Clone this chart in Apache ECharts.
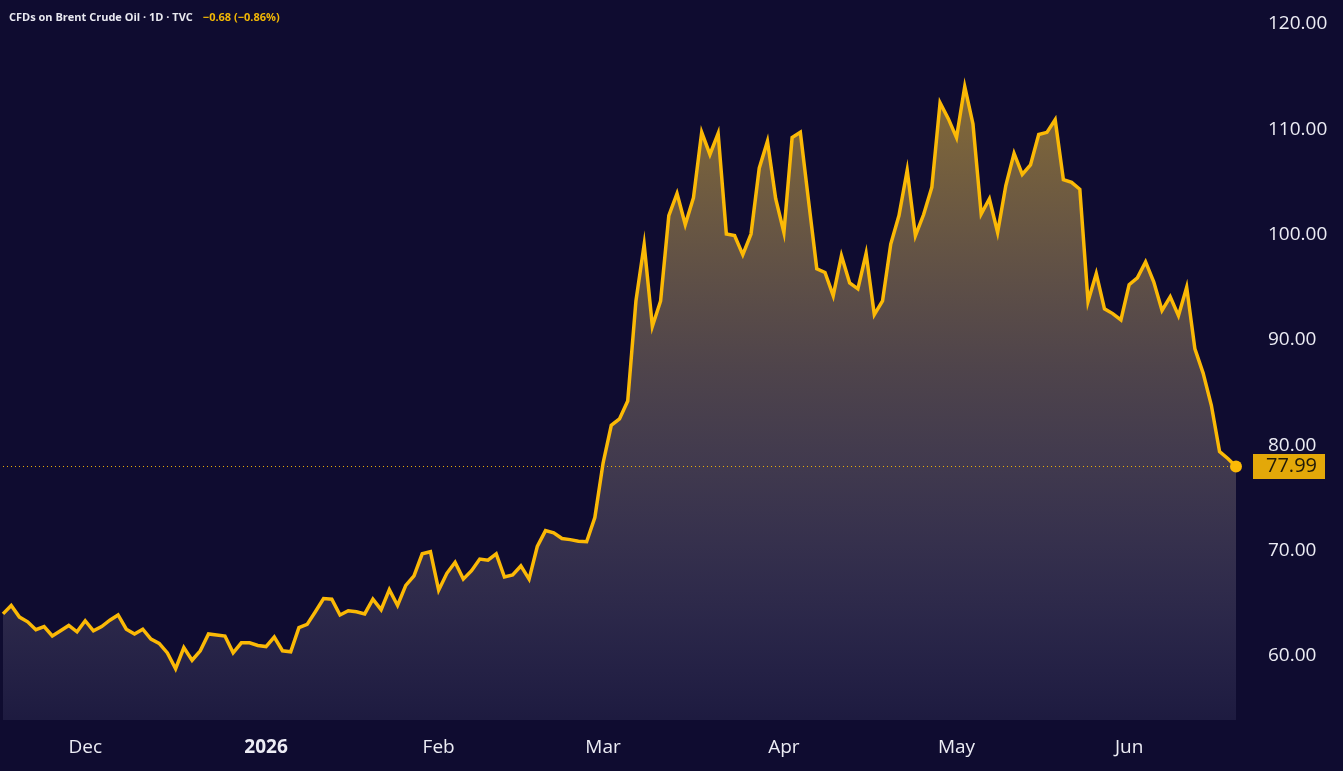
<!DOCTYPE html>
<html>
<head>
<meta charset="utf-8">
<script src="https://cdn.jsdelivr.net/npm/echarts@6/dist/echarts.min.js"></script>
<style>
html,body{margin:0;padding:0;background:#0f0c30;}
#chart{width:1343px;height:771px;}
</style>
</head>
<body>
<div id="chart"></div>
<script>
// Trading sessions shown (weekdays, exchange holidays removed)
const firstDay = '2025-11-17';
const lastDay = '2026-06-18';
const holidays = ['2025-12-25', '2026-01-01', '2026-04-03'];
const monthNames = ['Jan','Feb','Mar','Apr','May','Jun','Jul','Aug','Sep','Oct','Nov','Dec'];

// Daily close, CFDs on Brent Crude Oil
const closes = [
  64.0, 64.8, 63.7, 63.25, 62.5, 62.8, 61.9, 62.4, 62.9, 62.3,
  63.35, 62.4, 62.8, 63.4, 63.9, 62.55, 62.1, 62.55, 61.6, 61.2,
  60.3, 58.8, 60.8, 59.6, 60.5, 62.1, 62.0, 61.9, 60.3, 61.25,
  61.25, 61.0, 60.9, 61.8, 60.5, 60.4, 62.7, 63.0, 64.2, 65.45,
  65.4, 63.9, 64.3, 64.2, 64.0, 65.4, 64.4, 66.3, 64.8, 66.7,
  67.6, 69.7, 69.9, 66.25, 67.85, 68.9, 67.3, 68.1, 69.2, 69.1,
  69.7, 67.5, 67.7, 68.55, 67.3, 70.4, 71.9, 71.7, 71.15, 71.05,
  70.9, 70.85, 73.15, 78.3, 81.9, 82.5, 84.2, 93.7, 99.05, 91.3,
  93.7, 101.8, 103.9, 100.95, 103.5, 109.7, 107.6, 109.6, 100.05, 99.9,
  98.1, 100.05, 106.3, 108.85, 103.4, 100.2, 109.2, 109.7, 103.2, 96.75,
  96.4, 94.2, 98.0, 95.4, 94.85, 98.2, 92.4, 93.7, 99.1, 101.8,
  106.1, 99.9, 101.9, 104.5, 112.5, 111.0, 109.2, 114.05, 110.5, 101.95,
  103.4, 100.2, 104.65, 107.7, 105.7, 106.6, 109.5, 109.7, 110.9, 105.2,
  104.95, 104.3, 93.65, 96.3, 92.95, 92.5, 91.9, 95.25, 95.9, 97.4,
  95.5, 92.8, 94.1, 92.3, 95.0, 89.15, 86.85, 83.8, 79.4, 78.75,
  77.99
];

const titleText = 'CFDs on Brent Crude Oil · 1D · TVC';
const changeText = '\u22120.68 (\u22120.86%)';

// build category list of trading dates
const dates = [];
(function () {
  const d = new Date(firstDay + 'T00:00:00Z');
  const end = new Date(lastDay + 'T00:00:00Z');
  while (d <= end) {
    const wd = d.getUTCDay();
    const s = d.toISOString().slice(0, 10);
    if (wd !== 0 && wd !== 6 && holidays.indexOf(s) < 0) dates.push(s);
    d.setUTCDate(d.getUTCDate() + 1);
  }
})();

const lastIdx = closes.length - 1;
const FONT = "'Open Sans', 'Noto Sans', sans-serif";
const AMBER = '#fbb906';

const chart = echarts.init(document.getElementById('chart'), null, {renderer: 'canvas'});
chart.setOption({
  backgroundColor: '#0f0c30',
  animation: false,
  title: {
    left: 4, top: 4,
    text: '{a|' + titleText + '}  {b|' + changeText + '}',
    textStyle: {
      rich: {
        a: {color: '#e8e8f0', fontSize: 11, fontFamily: FONT},
        b: {color: '#f2b705', fontSize: 11, fontFamily: FONT}
      }
    }
  },
  grid: {left: 3, right: 107, top: 0, bottom: 51, containLabel: false},
  xAxis: {
    type: 'category',
    data: dates,
    boundaryGap: false,
    axisLine: {show: false},
    axisTick: {show: false},
    splitLine: {show: false},
    axisLabel: {
      margin: 18,
      color: '#ececf4',
      fontSize: 19,
      fontFamily: FONT,
      interval: function (index, value) {
        if (index === 0) return false;
        return value.slice(0, 7) !== dates[index - 1].slice(0, 7);
      },
      formatter: function (value) {
        const m = parseInt(value.slice(5, 7), 10);
        if (m === 1) return '{y|' + value.slice(0, 4) + '}';
        return monthNames[m - 1];
      },
      rich: {
        y: {fontWeight: 'bold', fontSize: 19, color: '#ececf4', fontFamily: FONT}
      }
    }
  },
  yAxis: {
    type: 'value',
    position: 'right',
    min: 53.93,
    max: 122.26,
    splitNumber: 7,
    axisLine: {show: false},
    axisTick: {show: false},
    splitLine: {show: false},
    axisLabel: {
      margin: 32,
      showMinLabel: false,
      showMaxLabel: false,
      color: '#ececf4',
      fontSize: 19,
      fontFamily: FONT,
      formatter: function (v) { return v.toFixed(2); }
    }
  },
  series: [{
    type: 'line',
    data: closes,
    showSymbol: false,
    symbol: 'none',
    lineStyle: {color: AMBER, width: 3.5, join: 'miter'},
    areaStyle: {
      color: {
        type: 'linear', x: 0, y: 0, x2: 0, y2: 1,
        colorStops: [
          {offset: 0, color: 'rgba(250,200,60,0.72)'},
          {offset: 0.45, color: 'rgba(195,170,125,0.50)'},
          {offset: 1, color: 'rgba(185,185,235,0.12)'}
        ]
      }
    },
    markLine: {
      silent: true,
      symbol: 'none',
      lineStyle: {color: AMBER, type: [1, 3], width: 1, opacity: 0.9},
      label: {
        show: true,
        position: 'end',
        distance: 17,
        formatter: function (p) { return p.value.toFixed(2); },
        backgroundColor: AMBER,
        color: '#0a0a0a',
        fontSize: 20,
        fontFamily: FONT,
        padding: [3, 8, 2, 13]
      },
      data: [{yAxis: closes[lastIdx]}]
    },
    markPoint: {
      silent: true,
      data: [{
        coord: [dates[lastIdx], closes[lastIdx]],
        symbol: 'circle',
        symbolSize: 12,
        itemStyle: {color: AMBER},
        label: {show: false}
      }]
    }
  }]
});
</script>
</body>
</html>
